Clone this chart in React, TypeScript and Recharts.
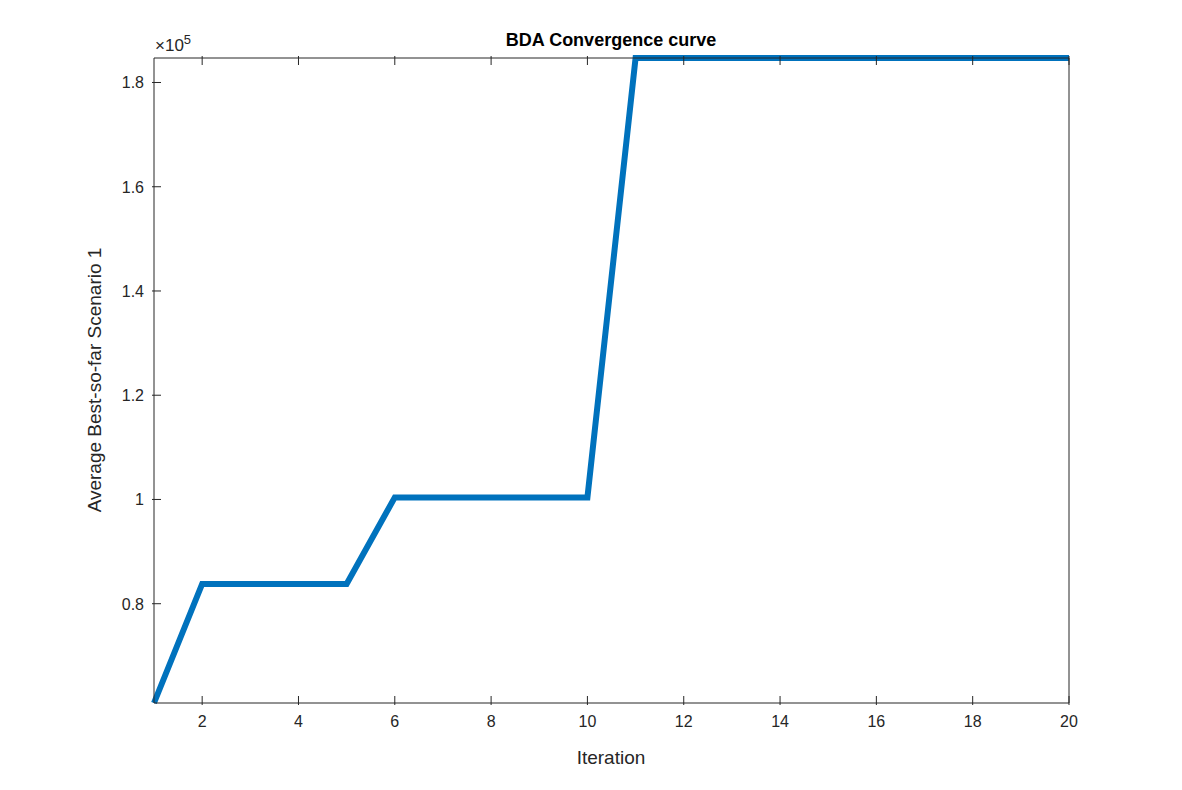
import { LineChart, Line, XAxis, YAxis } from "recharts";

const iterations = [1, 2, 3, 4, 5, 6, 7, 8, 9, 10, 11, 12, 13, 14, 15, 16, 17, 18, 19, 20];
const bestSoFar = [
    60950, 83800, 83800, 83800, 83800, 100400, 100400, 100400, 100400, 100400,
    184700, 184700, 184700, 184700, 184700, 184700, 184700, 184700, 184700, 184700,
];
const xTicks = [2, 4, 6, 8, 10, 12, 14, 16, 18, 20];
const yTicks = [80000, 100000, 120000, 140000, 160000, 180000];

const data = iterations.map((it, i) => ({ it, v: bestSoFar[i] }));

const FONT = "'Liberation Sans', Arial, sans-serif";
const INK = "#262626";

const XTick = (props: any) => {
    const { x, y, payload, top } = props;
    return (
        <g>
            <line x1={x} y1={y} x2={x} y2={top ? y + 9 : y - 9} stroke={INK} />
            {top ? null : (
                <text x={x} y={y + 22} textAnchor="middle" fontSize={16} fill={INK} fontFamily={FONT}>
                    {payload.value}
                </text>
            )}
        </g>
    );
};

const YTick = (props: any) => {
    const { x, y, payload, right } = props;
    const label = (payload.value / 1e5).toFixed(1).replace(/\.0$/, "");
    return (
        <g>
            <line x1={x} y1={y} x2={right ? x - 9 : x + 9} y2={y} stroke={INK} />
            {right ? null : (
                <text x={x - 8} y={y + 6} textAnchor="end" fontSize={16} fill={INK} fontFamily={FONT}>
                    {label}
                </text>
            )}
        </g>
    );
};

export default function App() {
    return (
        <div style={{ position: "absolute", left: 0, top: 0, width: 1182, height: 790, background: "#fff" }}>
            <LineChart
                width={1182}
                height={790}
                data={data}
                margin={{ top: 57, right: 112, bottom: 57, left: 94 }}
            >
                <XAxis
                    xAxisId="b"
                    dataKey="it"
                    type="number"
                    domain={[1, 20]}
                    ticks={xTicks}
                    height={30}
                    tickSize={0}
                    tickLine={false}
                    stroke={INK}
                    tick={<XTick />}
                />
                <XAxis
                    xAxisId="t"
                    orientation="top"
                    dataKey="it"
                    type="number"
                    domain={[1, 20]}
                    ticks={xTicks}
                    height={1}
                    tickSize={0}
                    tickLine={false}
                    stroke={INK}
                    tick={<XTick top />}
                />
                <YAxis
                    yAxisId="l"
                    type="number"
                    domain={[60950, 184700]}
                    ticks={yTicks}
                    width={60}
                    tickSize={0}
                    tickLine={false}
                    stroke={INK}
                    tick={<YTick />}
                />
                <YAxis
                    yAxisId="r"
                    orientation="right"
                    type="number"
                    domain={[60950, 184700]}
                    ticks={yTicks}
                    width={1}
                    tickSize={0}
                    tickLine={false}
                    stroke={INK}
                    tick={<YTick right />}
                />
                <Line
                    xAxisId="b"
                    yAxisId="l"
                    dataKey="v"
                    type="linear"
                    stroke="#0072BD"
                    strokeWidth={6}
                    dot={false}
                    isAnimationActive={false}
                />
            </LineChart>
            <div style={{ position: "absolute", left: 0, width: 1222, top: 30, textAlign: "center", fontFamily: FONT, fontWeight: "bold", fontSize: 18, color: "#000" }}>
                BDA Convergence curve
            </div>
            <div style={{ position: "absolute", left: 155, top: 32, fontFamily: FONT, fontSize: 17, color: INK }}>
                ×10<sup style={{ fontSize: 13 }}>5</sup>
            </div>
            <div style={{ position: "absolute", left: 0, width: 1222, top: 747, textAlign: "center", fontFamily: FONT, fontSize: 19, color: INK }}>
                Iteration
            </div>
            <div
                style={{
                    position: "absolute",
                    left: 95,
                    top: 380,
                    transform: "translate(-50%, -50%) rotate(-90deg)",
                    whiteSpace: "nowrap",
                    fontFamily: FONT,
                    fontSize: 19,
                    color: INK,
                }}
            >
                Average Best-so-far Scenario 1
            </div>
        </div>
    );
}
